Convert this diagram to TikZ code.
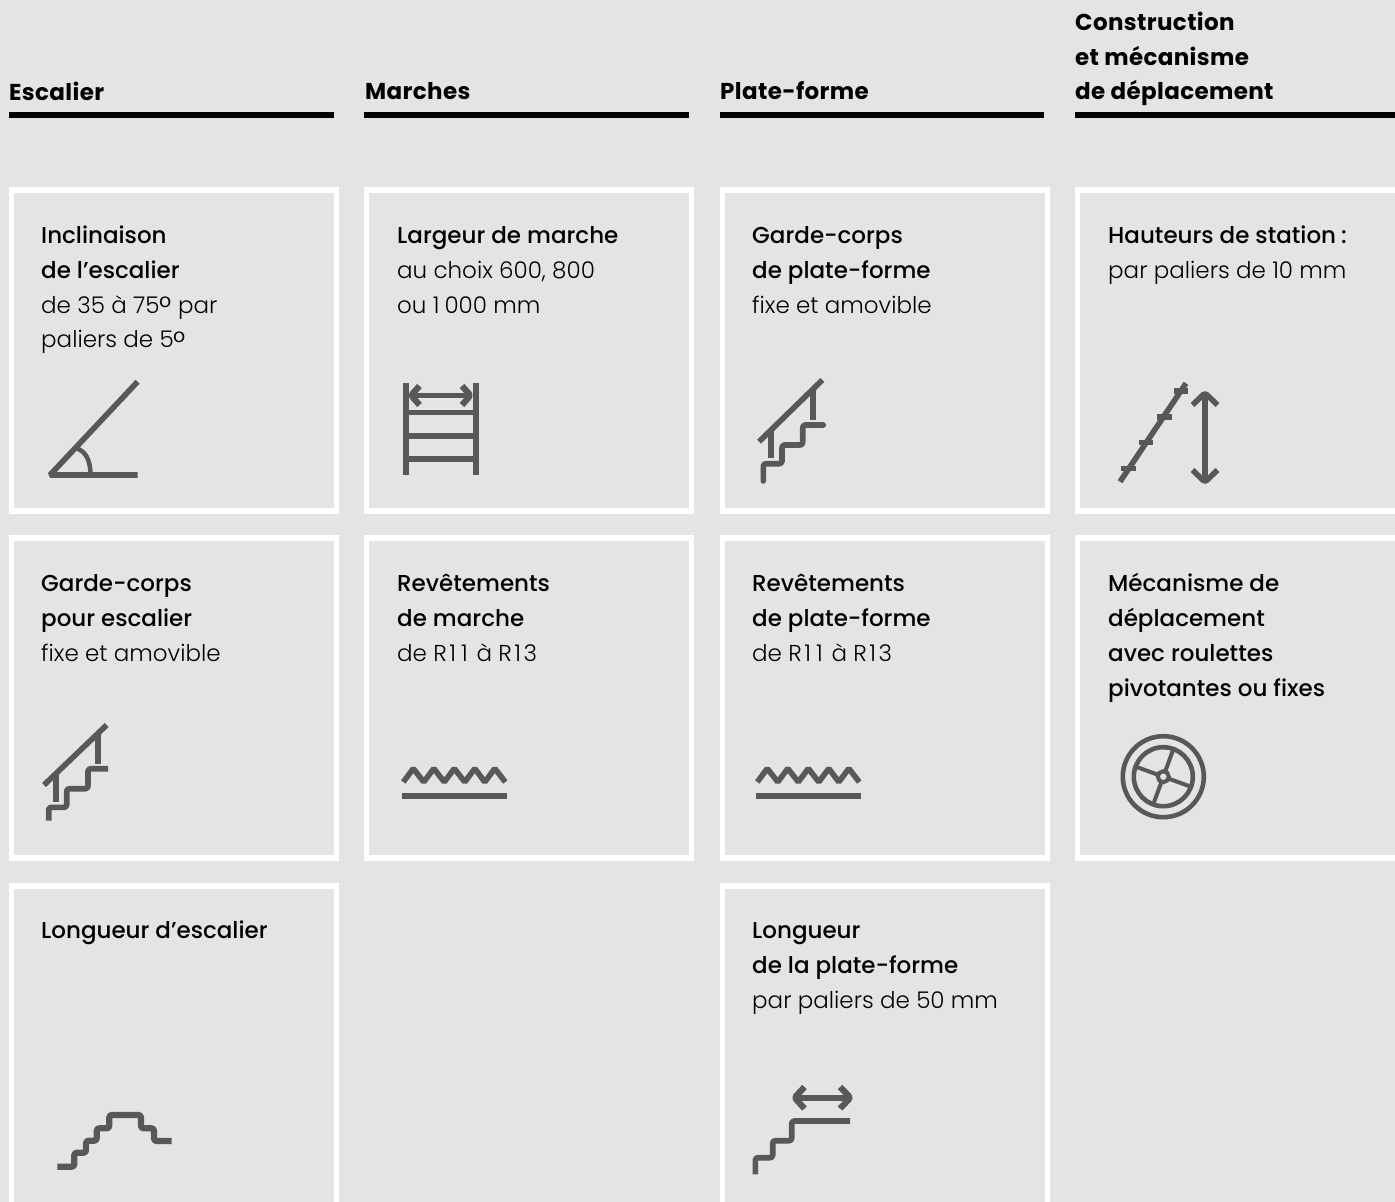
\documentclass[tikz,border=0pt]{standalone}
\usepackage{fontspec}
\usetikzlibrary{calc}
\setmainfont{Poppins}[UprightFont=* Light,BoldFont=* Medium]
\newfontfamily\headf{Poppins}[UprightFont=* Bold,LetterSpace=1.6]
\definecolor{bg}{HTML}{E4E4E4}
\definecolor{ico}{HTML}{58585A}
\newcommand{\fl}{\rule{0pt}{18pt}}
\newcommand{\tl}[1]{\textbf{#1}}
\newcommand{\dg}{\smash{\raisebox{-5.5pt}{\fontsize{31}{31}\selectfont °}}}
\newcommand{\oo}{\kern2.5pt 1\kern2.5pt}
\tikzset{
  cell/.style={draw=white,line width=5.2pt,fill=none},
  rulebar/.style={draw=black,line width=5.4pt},
  hd/.style={anchor=north west,inner sep=0pt,align=left,font=\headf\fontsize{23}{34.6}\selectfont},
  tx/.style={anchor=north west,inner sep=0pt,align=left,font=\fontsize{23}{34.8}\selectfont},
  ic/.style={draw=ico,line width=5.6pt,line join=bevel},
  icr/.style={draw=ico,line width=5.6pt,line join=round,rounded corners=2.5pt},
  icw/.style={draw=ico,line width=4.6pt},
}
\newcommand{\zz}{(0,782) -- (10,768.5) -- (20.5,782) -- (30.5,768.5) -- (41,782) -- (51,768.5) -- (61.5,782) -- (71.5,768.5) -- (81.5,782) -- (91.5,768.5) -- (102,782)}
\begin{document}
\begin{tikzpicture}[x=1pt,y=-1pt]
\useasboundingbox (0,0) rectangle (1395,1202);
\fill[bg] (0,0) rectangle (1395,1202);
% boxes
\draw[cell] (11.5,190) rectangle (336.5,511);
\draw[cell] (366.5,190) rectangle (691.5,511);
\draw[cell] (722.5,190) rectangle (1047.5,511);
\draw[cell] (1077.5,190) rectangle (1410,511);
\draw[cell] (11.5,538) rectangle (336.5,858);
\draw[cell] (366.5,538) rectangle (691.5,858);
\draw[cell] (722.5,538) rectangle (1047.5,858);
\draw[cell] (1077.5,538) rectangle (1410,858);
\draw[cell] (11.5,886) rectangle (336.5,1220);
\draw[cell] (722.5,886) rectangle (1047.5,1220);
% headers
\node[hd] (h1) at (9,81.5) {\fl Escalier};
\node[hd] (h2) at (365,81.5) {\fl Marches};
\node[hd] (h3) at (720,81.5) {\fl Plate-forme};
\node[hd] (h4) at (1075,12) {\fl Construction\\et mécanisme\\de déplacement};
\draw[rulebar] (9,115) -- (334,115);
\draw[rulebar] (364,115) -- (689,115);
\draw[rulebar] (720,115) -- (1044,115);
\draw[rulebar] (1075,115) -- (1395,115);
% texts
\node[tx] (t1) at (41,225.3) {\fl\tl{Inclinaison}\\\tl{de l’escalier}\\de 35 à 75\dg\ par\\paliers de 5\dg};
\node[tx] (t2) at (397,225.3) {\fl\tl{Largeur de marche}\\au choix 600, 800\\ou 1\kern5pt 000 mm};
\node[tx] (t3) at (752,225.3) {\fl\tl{Garde-corps}\\\tl{de plate-forme}\\fixe et amovible};
\node[tx] (t4) at (1108,225.3) {\fl\tl{Hauteurs de station\kern5pt :}\\par paliers de 10 mm};
\node[tx] (t5) at (41,573.3) {\fl\tl{Garde-corps}\\\tl{pour escalier}\\fixe et amovible};
\node[tx] (t6) at (397,573.3) {\fl\tl{Revêtements}\\\tl{de marche}\\de R\oo\oo{} à R\oo 3};
\node[tx] (t7) at (752,573.3) {\fl\tl{Revêtements}\\\tl{de plate-forme}\\de R\oo\oo{} à R\oo 3};
\node[tx] (t8) at (1108,573.3) {\fl\tl{Mécanisme de}\\\tl{déplacement}\\\tl{avec roulettes}\\\tl{pivotantes ou fixes}};
\node[tx] (t9) at (41,920.3) {\fl\tl{Longueur d’escalier}};
\node[tx] (t10) at (752,920.3) {\fl\tl{Longueur}\\\tl{de la plate-forme}\\par paliers de 50 mm};
% angle icon
\draw[ic] (137.6,381.7) -- (50,475) -- (137.6,475);
\draw[ic,line width=4.5pt] (76.5,448.5) .. controls (86,451) and (90.5,461) .. (90.5,475);
% ladder icon
\draw[ic] (405.7,382.7) -- (405.7,475);
\draw[ic] (476,382.7) -- (476,475);
\draw[ic] (405.7,412.3) -- (476,412.3);
\draw[ic] (405.7,435.7) -- (476,435.7);
\draw[ic] (405.7,458.7) -- (476,458.7);
\draw[ic] (412,395.3) -- (470,395.3);
\draw[icr,line width=6.2pt] (419.5,386) -- (411,395.3) -- (419.5,405);
\draw[icr,line width=6.2pt] (462,386) -- (470.5,395.3) -- (462,405);
% guardrail icon, platform
\draw[ic] (759,441.7) -- (822.3,380);
\draw[ic] (770.7,430) -- (770.7,458.3);
\draw[ic] (812.7,390) -- (812.7,420);
\draw[icr,line cap=round] (763.3,481) -- (763.3,463.7) -- (782,463.7) -- (782,445) -- (802.7,445) -- (802.7,425) -- (823.3,425);
% guardrail icon, stairs
\draw[ic] (44,785) -- (106.7,725);
\draw[ic] (56,774) -- (56,802.3);
\draw[ic] (98,733) -- (98,764);
\draw[icr] (48.7,820.7) -- (48.7,807.3) -- (66.7,807.3) -- (66.7,788.7) -- (88,788.7) -- (88,768.7) -- (108,768.7);
% height icon
\draw[ic] (1120,481.7) -- (1186,383.3);
\draw[ic] (1174,390.7) -- (1187.7,390.7);
\draw[ic] (1157.3,416.7) -- (1171.7,416.7);
\draw[ic] (1139.3,442.3) -- (1153.3,442.3);
\draw[ic] (1121,468.3) -- (1135.7,468.3);
\draw[ic] (1205,394) -- (1205,481);
\draw[icr] (1192.5,405) -- (1205,393) -- (1217.5,405);
\draw[icr] (1192.5,470) -- (1205,482) -- (1217.5,470);
% coating icons
\begin{scope}[xshift=403.3pt]
\draw[ic] \zz;
\end{scope}
\draw[ic,line width=6pt] (402.3,796) -- (506.7,796);
\begin{scope}[xshift=757.3pt]
\draw[ic] \zz;
\end{scope}
\draw[ic,line width=6pt] (756.3,796) -- (860.7,796);
% wheel icon
\coordinate (wc) at (1163.3,776.7);
\draw[icw] (wc) circle[radius=40.5pt];
\draw[icw] (wc) circle[radius=29.5pt];
\draw[icw,line width=4pt] (wc) circle[radius=5.5pt];
\foreach \a in {70,160,250,340}{
  \draw[icw,line width=4pt] ($(wc)+(\a:5.5pt)$) -- ($(wc)+(\a:29.7pt)$);
}
% stair length icon
\draw[icr,line width=6.2pt] (57.3,1166.7) -- (74.3,1166.7) -- (74.3,1152.7) -- (86,1152.7) -- (86,1140.7) -- (96.7,1140.7) -- (96.7,1128.3) -- (109.3,1128.3) -- (109.3,1115) -- (141,1115) -- (141,1128.3) -- (154,1128.3) -- (154,1141) -- (171.7,1141);
% platform length icon
\draw[ic] (796,1097.7) -- (849,1097.7);
\draw[icr,line width=6.2pt] (804.5,1087) -- (794.5,1097.7) -- (804.5,1108.5);
\draw[icr,line width=6.2pt] (840,1087) -- (850.5,1097.7) -- (840,1108.5);
\draw[icr] (755.3,1174.3) -- (755.3,1157.7) -- (772.7,1157.7) -- (772.7,1140.7) -- (791.7,1140.7) -- (791.7,1121) -- (850,1121);
\end{tikzpicture}
\end{document}
